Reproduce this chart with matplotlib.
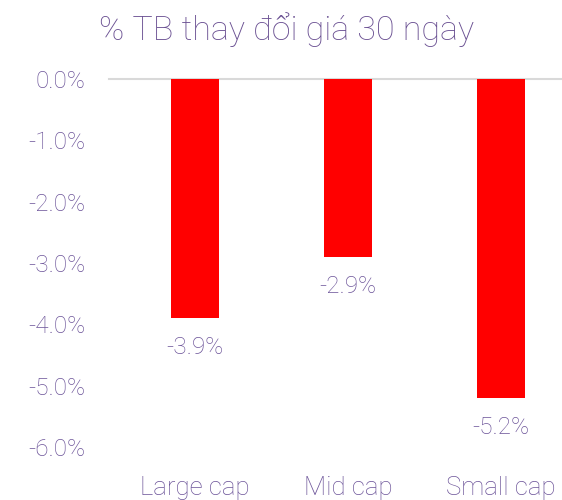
import matplotlib
matplotlib.use("Agg")
import matplotlib.pyplot as plt
import numpy as np

# data
categories = ["Large cap", "Mid cap", "Small cap"]
changes = [-3.9, -2.9, -5.2]
yticks = [0, -1, -2, -3, -4, -5, -6]

purple = "#6a5092"
label_purple = "#6c5499"

plt.rcParams['font.family'] = ['Roboto', 'DejaVu Sans']
plt.rcParams['font.weight'] = 'light'

fig = plt.figure(figsize=(5.62, 5.0), dpi=100)
# axes reaches past the right edge like in the original
ax = fig.add_axes([118.5 / 562, 53 / 500, 459 / 562, 368 / 500])

x = np.arange(len(categories))
ax.bar(x, changes, width=0.31, color="#ff0000", zorder=2)
ax.axhline(0, color="#d9d9d9", linewidth=1.5, zorder=1, xmin=-0.02, clip_on=False)

for xi, v in zip(x, changes):
    ax.annotate("%.1f%%" % v, (xi, v), xytext=(0, -21), textcoords="offset points",
                ha="center", va="center", fontsize=17.5, color=label_purple,
                fontweight="light")

ax.set_xlim(-0.5, 2.5)
ax.set_ylim(-6, 0)
ax.set_yticks(yticks)
ax.set_yticklabels(["%.1f%%" % t for t in yticks])
ax.set_xticks(x)
ax.set_xticklabels(categories)
ax.tick_params(axis="y", length=0, pad=24, labelsize=17.5, labelcolor=label_purple)
ax.tick_params(axis="x", length=0, pad=21, labelsize=18.5, labelcolor=label_purple)
for s in ax.spines.values():
    s.set_visible(False)

fig.text(287 / 562, 1 - 30 / 500, "% TB thay đổi giá 30 ngày", ha="center", va="center",
         fontsize=24.5, color=purple, fontweight="light")

fig.savefig("out.png", dpi=100)
